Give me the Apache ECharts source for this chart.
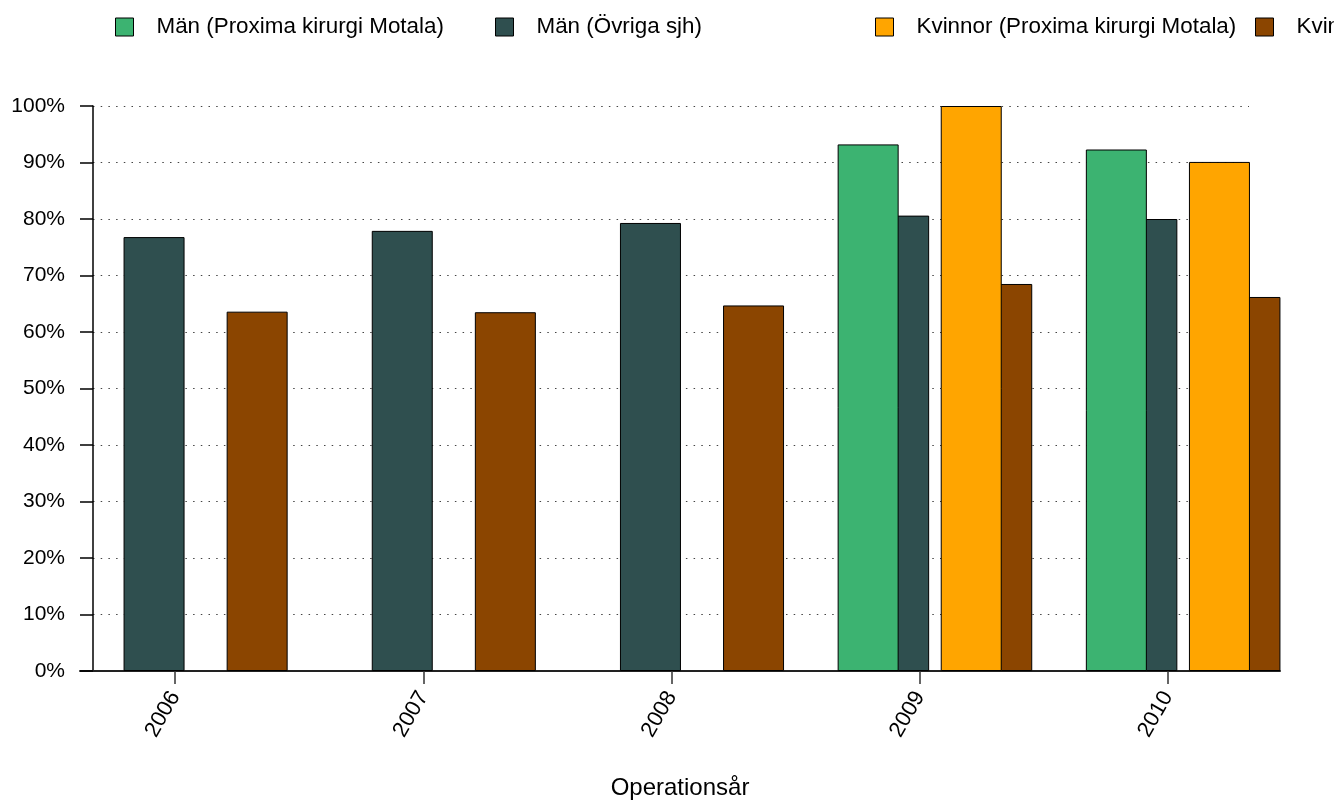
<!DOCTYPE html>
<html><head><meta charset="utf-8">
<script src="https://cdn.jsdelivr.net/npm/echarts@6/dist/echarts.min.js"></script>
<style>html,body{margin:0;padding:0;background:#fff}#c{width:1334px;height:801px}</style>
</head><body><div id="c"></div>
<script>
const years = ['2006', '2007', '2008', '2009', '2010'];
const menProxima = [null, null, null, 93.2, 92.3];
const menOvriga = [76.8, 77.9, 79.3, 80.6, 80.0];
const womenProxima = [null, null, null, 100, 90.1];
const womenOvriga = [63.6, 63.5, 64.7, 68.5, 66.2];
const seriesNames = ['Män (Proxima kirurgi Motala)', 'Män (Övriga sjh)', 'Kvinnor (Proxima kirurgi Motala)', 'Kvinnor (Övriga sjh)'];
const colors = ['#3CB371', '#2F4F4F', '#FFA500', '#8B4500'];
const xTitle = 'Operationsår';

const FONT = '"Liberation Sans", Arial, sans-serif';
const chart = echarts.init(document.getElementById('c'));
const TOP = 106, H = 565;
const grids = [
  { left: 51, top: TOP, width: 1241, height: H },    // Proxima bars + ticks/labels
  { left: 81.5, top: TOP, width: 1241, height: H },  // Övriga bars (shifted)
  { left: 93, top: TOP, width: 1156, height: H },    // y axis + gridlines
  { left: 80, top: TOP, width: 1200, height: H }     // x axis line + title
].map(g => Object.assign({ outerBoundsMode: 'none', containLabel: false }, g));

const hiddenY = i => ({ type: 'value', gridIndex: i, min: 0, max: 100, show: false });
const legendLefts = [115, 495, 875, 1255];

function barSeries(idx, data, axis, z) {
  return {
    name: seriesNames[idx], type: 'bar', data: data,
    xAxisIndex: axis, yAxisIndex: axis, z: z,
    barWidth: 61, barGap: '69%',
    itemStyle: { color: colors[idx], borderColor: '#000', borderWidth: 1 },
    emphasis: { disabled: true }, animation: false
  };
}

chart.setOption({
  animation: false,
  textStyle: { fontFamily: FONT },
  legend: seriesNames.map((n, i) => ({
    left: legendLefts[i], top: 16, width: 1600, padding: 0,
    itemWidth: 18, itemHeight: 18, icon: 'rect', itemGap: 0,
    data: [n], selectedMode: false,
    itemStyle: { borderColor: '#000', borderWidth: 1 },
    textStyle: { fontSize: 22.4, color: '#000', fontFamily: FONT, padding: [0, 0, 0, 18] }
  })),
  grid: grids,
  xAxis: [
    { type: 'category', gridIndex: 0, data: years,
      axisLine: { show: false },
      axisTick: { show: true, alignWithLabel: true, length: 13, lineStyle: { color: '#333', width: 1.5 } },
      axisLabel: { rotate: 60, fontSize: 22, color: '#000', margin: 22, fontFamily: FONT, interval: 0 },
      splitLine: { show: false } },
    { type: 'category', gridIndex: 1, data: years, show: false },
    { type: 'category', gridIndex: 2, data: years, show: false },
    { type: 'category', gridIndex: 3, data: years,
      axisLine: { show: true, lineStyle: { color: '#222', width: 2 } },
      axisTick: { show: false }, axisLabel: { show: false }, splitLine: { show: false },
      name: xTitle, nameLocation: 'middle', nameGap: 105,
      nameTextStyle: { fontSize: 24, color: '#000', fontFamily: FONT, verticalAlign: 'top' } }
  ],
  yAxis: [
    hiddenY(0), hiddenY(1),
    { type: 'value', gridIndex: 2, min: 0, max: 100, interval: 10,
      axisLine: { show: true, lineStyle: { color: '#000', width: 1.5 } },
      axisTick: { show: true, length: 13, lineStyle: { color: '#000', width: 1.5 } },
      axisLabel: { formatter: '{value}%', fontSize: 21, color: '#000', margin: 28, fontFamily: FONT },
      splitLine: { show: true, lineStyle: { color: '#444', width: 1, type: [1.5, 6.2] } } },
    hiddenY(3)
  ],
  series: [
    barSeries(1, menOvriga, 1, 2),
    barSeries(3, womenOvriga, 1, 2),
    barSeries(0, menProxima, 0, 3),
    barSeries(2, womenProxima, 0, 3)
  ]
});
</script></body></html>
